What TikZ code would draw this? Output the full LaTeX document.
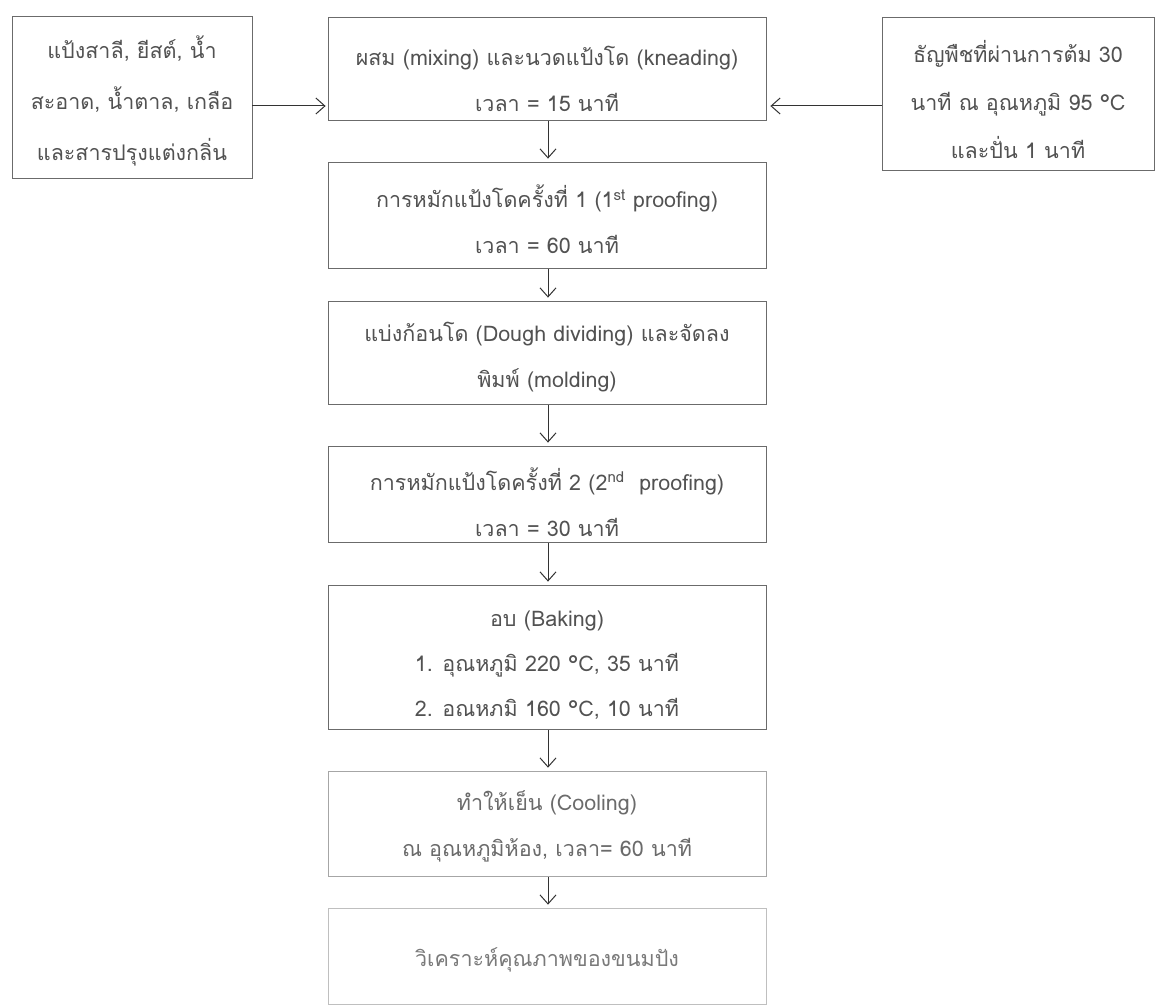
\documentclass[tikz,border=0pt]{standalone}
\usepackage{fontspec}
\setmainfont[Script=Thai]{Loma}
\usetikzlibrary{arrows.meta}
\begin{document}
\begin{tikzpicture}[x=1pt,y=-1pt,
  box/.style={draw=black!58,line width=0.8pt,inner sep=0pt},
  lightbox/.style={draw=black!35,line width=0.7pt,inner sep=0pt},
  txt/.style={align=center,text=black!68,font=\fontsize{21.5}{46}\selectfont,inner sep=0pt},
  lighttxt/.style={txt,text=black!58},
  sidetxt/.style={align=center,text=black!68,font=\fontsize{21.5}{51}\selectfont,inner sep=0pt},
  flow/.style={draw=black!80,line width=1pt,-{Straight Barb[length=9pt,width=16pt,line width=1pt]}}]
\useasboundingbox (0,0) rectangle (1155,1006);
\fill[white] (0,0) rectangle (1155,1006);

% side boxes
\node[box,minimum width=240pt,minimum height=162pt] (lin) at (132,97) {};
\node[sidetxt] (tlin) at (132,101) {แป้งสาลี, ยีสต์, น้ำ\\สะอาด, น้ำตาล, เกลือ\\และสารปรุงแต่งกลิ่น};
\node[box,minimum width=272pt,minimum height=153pt] (rin) at (1018,93.5) {};
\node[sidetxt,font=\fontsize{21.5}{48}\selectfont] (trin) at (1018,100) {ธัญพืชที่ผ่านการต้ม 30\\นาที ณ อุณหภูมิ 95 °C\\และปั่น 1 นาที};

% main column
\node[box,minimum width=438pt,minimum height=103pt] (b1) at (547,68.5) {};
\node[txt] (t1) at (547,79) {ผสม (mixing) และนวดแป้งโด (kneading)\\เวลา = 15 นาที};

\node[box,minimum width=438pt,minimum height=106pt] (b2) at (547,215) {};
\node[txt] (t2) at (547,219.5) {การหมักแป้งโดครั้งที่ 1 (1\textsuperscript{st} proofing)\\เวลา = 60 นาที};

\node[box,minimum width=438pt,minimum height=103pt] (b3) at (547,352.5) {};
\node[txt] (t3) at (547,357) {แบ่งก้อนโด (Dough dividing) และจัดลง\\พิมพ์ (molding)};

\node[box,minimum width=438pt,minimum height=96pt] (b4) at (547,494) {};
\node[txt] (t4) at (547,502) {การหมักแป้งโดครั้งที่ 2 (2\textsuperscript{nd}\ \ proofing)\\เวลา = 30 นาที};

\node[box,minimum width=438pt,minimum height=144pt] (b5) at (547,657) {};
\node[txt,font=\fontsize{21.5}{45}\selectfont] (t5) at (547,665.5) {อบ (Baking)\\1. อุณหภูมิ 220 °C, 35 นาที\\2. อณหภมิ 160 °C, 10 นาที};

\node[lightbox,minimum width=438pt,minimum height=105pt] (b6) at (547,823.5) {};
\node[lighttxt] (t6) at (547,826) {ทำให้เย็น (Cooling)\\ณ อุณหภูมิห้อง, เวลา= 60 นาที};

\node[lightbox,draw=black!25,minimum width=438pt,minimum height=96pt] (b7) at (547,956) {};
\node[lighttxt,text=black!52] (t7) at (547,960) {วิเคราะห์คุณภาพของขนมปัง};

% connectors
\coordinate (ya) at (0,106);
\draw[flow] (lin.east |- ya) -- ([xshift=-2pt]b1.west |- ya);
\draw[flow] (rin.west |- ya) -- ([xshift=4pt]b1.east |- ya);
\foreach \a/\b in {b1/b2,b2/b3,b3/b4,b4/b5,b5/b6,b6/b7}{
  \draw[flow,shorten <=1pt,shorten >=3pt] ([xshift=1pt]\a.south) -- ([xshift=1pt]\b.north);
}
\end{tikzpicture}
\end{document}
